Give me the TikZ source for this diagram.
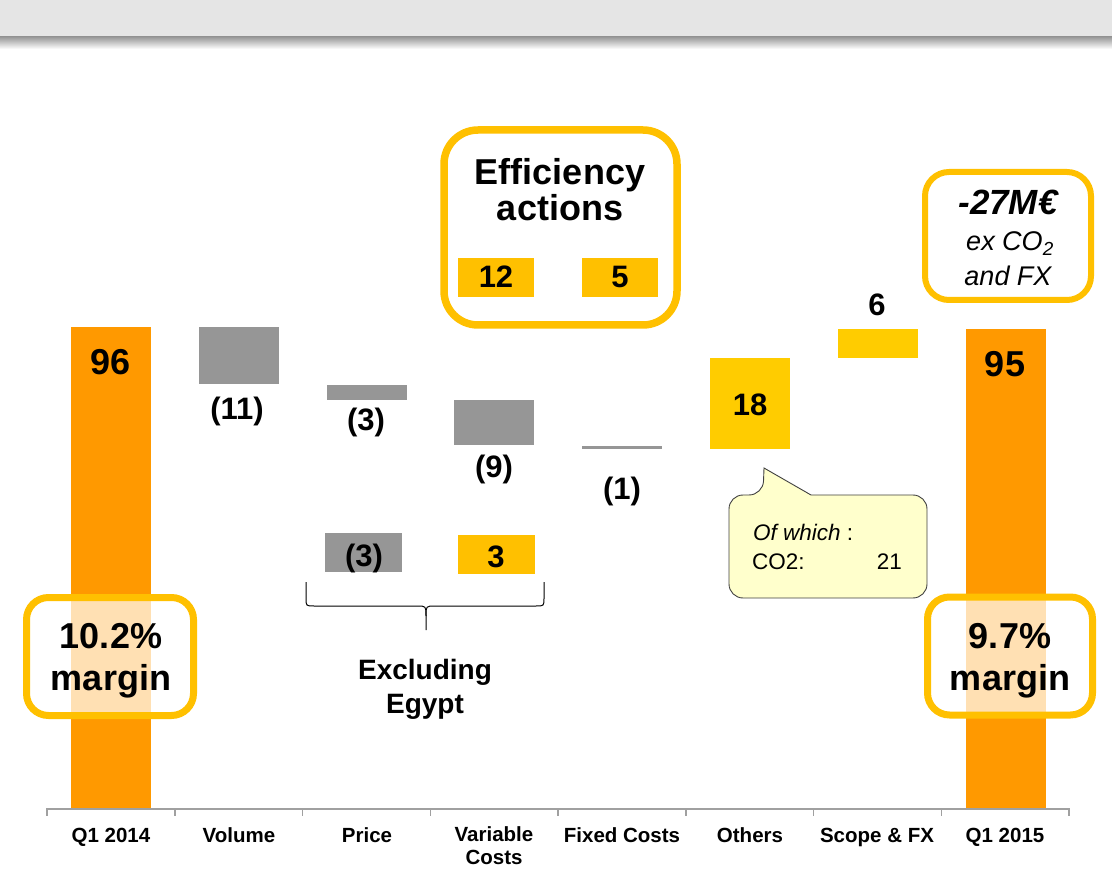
\documentclass[tikz,border=0pt]{standalone}
\usepackage{fontspec}
\setmainfont{Liberation Sans}
\definecolor{orng}{HTML}{FF9900}
\definecolor{gbar}{HTML}{969696}
\definecolor{yelbar}{HTML}{FFCC00}
\definecolor{ybox}{HTML}{FFC000}
\definecolor{callfill}{HTML}{FFFFCC}
\definecolor{axisc}{HTML}{A0A0A0}
\begin{document}
\begin{tikzpicture}[x=1pt,y=-1pt,
  val/.style={font=\bfseries\fontsize{31}{36}\selectfont, anchor=base, inner sep=0pt},
  tot/.style={font=\bfseries\fontsize{36}{40}\selectfont, anchor=base, inner sep=0pt},
  axl/.style={font=\bfseries\fontsize{20.5}{24}\selectfont, anchor=base, inner sep=0pt, align=center},
  big/.style={font=\bfseries\fontsize{36}{42}\selectfont, anchor=base, inner sep=0pt},
  ybord/.style={draw=ybox, rounded corners=#1, fill=white, fill opacity=0.7, text opacity=1, inner sep=0pt},
  ybord/.default=26pt,
  callt/.style={font=\fontsize{22.5}{26}\selectfont, anchor=base, inner sep=0pt},
  axisline/.style={draw=axisc, line width=1.5pt}
]
\useasboundingbox (0,0) rectangle (1112,874);
% header band
\fill[gray!20] (0,0) rectangle (1112,37);
\shade[top color=black!40, bottom color=white] (0,37) rectangle (1112,49);

% bars
\fill[orng] (71,327) rectangle (151,809);
\fill[gbar] (199,327) rectangle (279,384);
\fill[gbar] (327,385) rectangle (407,400);
\fill[gbar] (454,400) rectangle (534,445);
\fill[gbar] (582,446) rectangle (662,449);
\fill[yelbar] (710,358) rectangle (790,449);
\fill[yelbar] (838,329) rectangle (918,358);
\fill[orng] (966,329) rectangle (1046,809);

% axis
\draw[axisline] (47,809) coordinate (axL) -- (1069,809) coordinate (axR);
\foreach \i in {0,...,8}
  \draw[axisline] (47+127.75*\i,808.25) -- (47+127.75*\i,816);

% axis labels
\node[axl] (c1) at (111,842) {Q1 2014};
\node[axl] (c2) at (239,842) {Volume};
\node[axl] (c3) at (367,842) {Price};
\node[axl, anchor=north] (c4) at (494,826) {Variable\\[-1pt]Costs};
\node[axl] (c5) at (622,842) {Fixed Costs};
\node[axl] (c6) at (750,842) {Others};
\node[axl] (c7) at (877,842) {Scope \& FX};
\node[axl] (c8) at (1005,842) {Q1 2015};

% value labels
\node[tot] (v96) at (111,375) {96};
\node[val] (v11) at (237,420) {(11)};
\node[val] (v3) at (366,431) {(3)};
\node[val] (v9) at (494,478) {(9)};
\node[val] (v1) at (622,500) {(1)};
\node[val] (v18) at (750,416) {18};
\node[val] (v6) at (877,316) {6};
\node[tot] (v95) at (1005,377) {95};

% Excluding Egypt
\fill[gbar] (325,533) rectangle (402,572);
\fill[ybox] (458,535) rectangle (535,574);
\node[val] (ex3a) at (364,566) {(3)};
\node[val] (ex3b) at (496,567) {3};
\draw[black, line width=1pt]
  (306,582) -- (306,598) .. controls (306,606) .. (314,606) -- (417,606)
  .. controls (426,606) .. (426,616) -- (426,630);
\draw[black, line width=1pt]
  (544,582) -- (544,598) .. controls (544,606) .. (536,606) -- (435,606)
  .. controls (426,606) .. (426,616);
\node[font=\bfseries\fontsize{28}{34}\selectfont, anchor=base, inner sep=0pt] (exc1) at (425,679) {Excluding};
\node[font=\bfseries\fontsize{28}{34}\selectfont, anchor=base, inner sep=0pt] (exc2) at (425,713) {Egypt};

% Efficiency actions box
\node[ybord=34pt, line width=7.5pt, minimum width=233pt, minimum height=195pt, fill opacity=1] (eff) at (560.5,227.5) {};
\node[big] (eff1) at (560,185) {Efficiency};
\node[big] (eff2) at (560,221) {actions};
\fill[ybox] (458,258) rectangle (534,297);
\fill[ybox] (582,258) rectangle (658,297);
\node[val] (e12) at (496,288) {12};
\node[val] (e5) at (620,288) {5};

% -27M box
\node[ybord=24pt, line width=6pt, minimum width=166pt, minimum height=128pt, fill opacity=1] (m27) at (1008,236) {};
\node[font=\bfseries\itshape\fontsize{35}{40}\selectfont, anchor=base, inner sep=0pt] (m27a) at (1008,215) {-27M€};
\node[font=\itshape\fontsize{27}{32}\selectfont, anchor=base, inner sep=0pt] (m27b) at (1010,251) {ex CO\textsubscript{2}};
\node[font=\itshape\fontsize{27}{32}\selectfont, anchor=base, inner sep=0pt] (m27c) at (1008,286) {and FX};

% margin boxes
\node[ybord=22pt, line width=7pt, minimum width=167pt, minimum height=118pt] (mg1) at (110,656.5) {};
\node[big] (mg1a) at (111,648) {10.2\%};
\node[big] (mg1b) at (111,690) {margin};
\node[ybord=22pt, line width=7pt, minimum width=165pt, minimum height=118pt] (mg2) at (1010,656) {};
\node[big] (mg2a) at (1010,648) {9.7\%};
\node[big] (mg2b) at (1010,690) {margin};

% callout
\draw[draw=black!75, line width=0.9pt, fill=callfill]
  (811,495) [rounded corners=14pt] -- (927,495) -- (927,598) -- (729,598) -- (729,495)
  -- (763,495) [sharp corners] -- (764,468) -- cycle;
\node[callt, anchor=base west] (cw) at (753,540) {\textit{Of which} :};
\node[callt, anchor=base west] (cco) at (752,569) {CO2:};
\node[callt, anchor=base east] (c21) at (902,569) {21};
\end{tikzpicture}
\end{document}
